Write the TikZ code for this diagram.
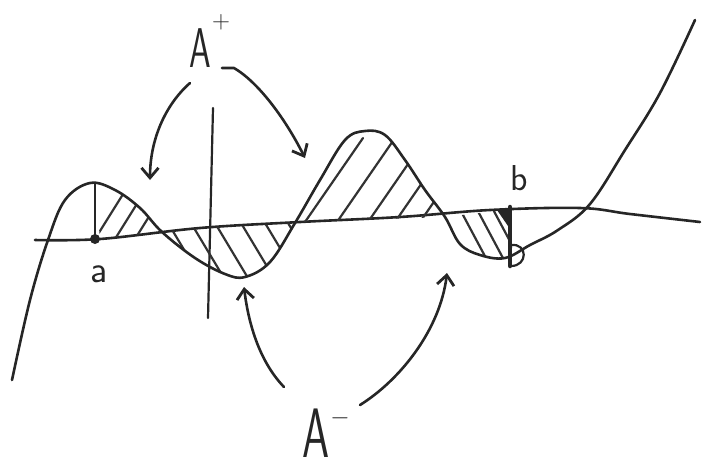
\documentclass[tikz,border=0pt]{standalone}
\usetikzlibrary{arrows.meta}
\begin{document}
\begin{tikzpicture}[x=1pt,y=-1pt,
  ink/.style={draw=black!85,line width=2.6pt,line cap=round,line join=round},
  hatch/.style={draw=black!80,line width=2.2pt,line cap=round},
  pointer/.style={ink,-{Straight Barb[length=10pt,width=17pt,line width=2.8pt]}},
  lbl/.style={font=\sffamily,text=black!85,inner sep=0pt}]
\useasboundingbox (0,0) rectangle (709,472);
% axes
\draw[ink] plot[smooth,tension=0.6] coordinates {(35,240) (100,239) (200,228) (300,222) (400,217) (490,210) (580,208) (630,214) (700,222)};
\draw[ink,line width=2.2pt] (213,108) -- (208,318);
% hatching region 1 (a to first root)
\begin{scope}
\clip (95,239) -- (95,183) plot[smooth,tension=0.6] coordinates {(95,183) (115,190) (140,208) (162,232)} -- (100,239) -- cycle;
\foreach \s in {85,105,125,145} \draw[hatch] (\s,255) -- ++(45,-72);
\end{scope}
% hatching region 2 (below axis)
\begin{scope}
\clip plot[smooth,tension=0.6] coordinates {(162,232) (195,258) (225,274) (245,277) (270,262) (295,223)} -- (200,228) -- cycle;
\foreach \s in {165,188,212,238,262,285} \draw[hatch] (\s,218) -- ++(36,60);
\end{scope}
% hatching region 3 (big hump)
\begin{scope}
\clip plot[smooth,tension=0.6] coordinates {(295,223) (320,180) (345,140) (365,131) (385,135) (405,160) (425,190) (445,217)} -- (300,222) -- cycle;
\foreach \s in {305,337,368,395,420} \draw[hatch] (\s,222) -- ++(58,-84);
\end{scope}
% hatching region 4
\begin{scope}
\clip plot[smooth,tension=0.6] coordinates {(445,217) (460,244) (480,255) (505,258) (512,255)} -- (512,209) -- cycle;
\foreach \s in {455,472,488} \draw[hatch] (\s,200) -- ++(32,60);
\end{scope}
% the function
\draw[ink] plot[smooth,tension=0.6] coordinates {(12,380) (30,300) (48,240) (65,200) (90,183) (115,190) (140,208) (162,232) (195,258) (225,274) (245,277) (270,262) (295,223) (320,180) (345,140) (365,131) (385,135) (405,160) (425,190) (445,217) (460,244) (480,255) (505,258) (530,245) (558,230) (590,204) (625,150) (660,93) (695,20)};
% point a
\coordinate (apt) at (95,239);
\coordinate (atop) at (95,184);
\fill[black!85] (apt) circle (5pt);
\draw[ink] (apt) -- (atop);
\node[lbl,font=\sffamily\fontsize{38}{38}\selectfont] (alab) at (99,274) {a};
% point b
\coordinate (btop) at (510,207);
\coordinate (bbot) at (510,266);
\draw[ink,line width=4.5pt] (btop) -- (bbot);
\fill[black!85] (497,210) -- (512,210) -- (508,226) -- cycle;
\draw[ink,line width=2.2pt] (511,245) .. controls (528,243) and (528,266) .. (511,266);
\node[lbl,font=\sffamily\fontsize{36}{36}\selectfont] (blab) at (519,178) {b};
% A+ label and arrows
\node[lbl,font=\sffamily\fontsize{56}{56}\selectfont,xscale=0.62] (Aplus) at (200,48) {A};
\node[lbl,font=\fontsize{30}{30}\selectfont] (plus) at (221,22) {$+$};
\coordinate (p1s) at (190,83);
\coordinate (p1e) at (150,180);
\draw[pointer] (p1s) .. controls (165,105) and (150,140) .. (p1e);
\coordinate (p2s) at (222,68);
\coordinate (p2e) at (305,158);
\draw[pointer] (p2s) -- (234,68) .. controls (258,82) and (285,118) .. (p2e);
% A- label and arrows
\node[lbl,font=\sffamily\fontsize{70}{70}\selectfont,xscale=0.62] (Aminus) at (316,433) {A};
\node[lbl,font=\fontsize{30}{30}\selectfont] (minus) at (340,418) {$-$};
\coordinate (m1s) at (284,387);
\coordinate (m1e) at (244,287);
\draw[pointer] (m1s) .. controls (258,360) and (248,320) .. (m1e);
\coordinate (m2s) at (360,405);
\coordinate (m2e) at (447,273);
\draw[pointer] (m2s) .. controls (400,380) and (440,330) .. (m2e);
\end{tikzpicture}
\end{document}
